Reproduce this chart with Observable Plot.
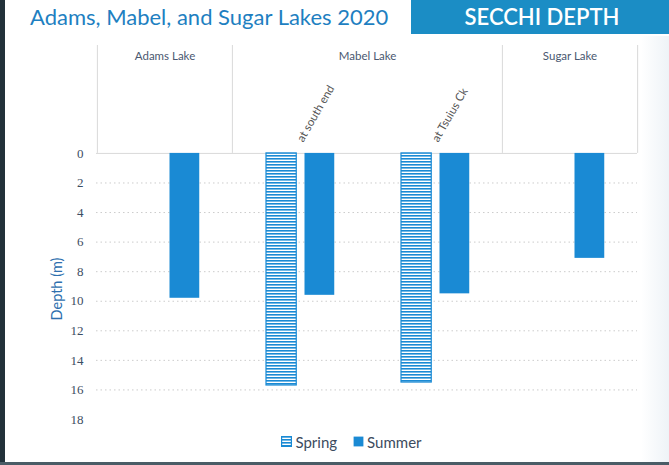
<!DOCTYPE html>
<html><head><meta charset="utf-8">
<script src="https://cdn.jsdelivr.net/npm/d3@7"></script>
<script src="https://cdn.jsdelivr.net/npm/@observablehq/plot@0.6"></script>
<style>
body{margin:0;background:#fff;}
#wrap{position:relative;width:669px;height:465px;overflow:hidden;background:#fff;font-family:Lato,"Open Sans",sans-serif;}
#title{position:absolute;left:30px;top:3px;font-size:22px;color:#1e7fc1;white-space:nowrap;}
#box{position:absolute;left:411px;top:0;width:258px;height:34px;background:#1b8dc5;color:#fff;font-size:22px;font-weight:600;text-align:center;line-height:34px;padding-left:4px;box-sizing:border-box;}
#chart{position:absolute;left:0;top:38px;}
#legend{position:absolute;top:432px;left:0;width:669px;box-sizing:border-box;padding-left:34px;text-align:center;font-size:15px;color:#3c4b5e;}
#legend span.item{display:inline-flex;align-items:center;margin:0 8px;}
#legend svg{margin-right:3px;}
#edgeL{position:absolute;left:0;top:0;width:5px;height:465px;background:#22313a;}
#edgeB{position:absolute;left:0;top:462px;width:669px;height:3px;background:#4a5c66;}
#edgeR{position:absolute;left:641px;top:36px;width:28px;height:426px;background:linear-gradient(90deg,#ffffff,#eef3f7);}
</style>
</head><body>
<svg width="0" height="0" style="position:absolute">
  <defs>
    <pattern id="hatch" patternUnits="userSpaceOnUse" width="6" height="3">
      <rect width="6" height="3" fill="#ffffff"></rect>
      <rect y="0" width="6" height="1.6" fill="#1a8ad4"></rect>
    </pattern>
  </defs>
</svg>
<div id="wrap">
  <div id="edgeR"></div>
  <div id="title">Adams, Mabel, and Sugar Lakes 2020</div>
  <div id="box">SECCHI DEPTH</div>
  <div id="chart"></div>
  <div id="legend"></div>
  <div id="edgeL"></div>
  <div id="edgeB"></div>
</div>
<script>
// ---- data ----
const siteKeys = ["Adams", "MabelSouth", "MabelTsuius", "Sugar"];
const subLabels = ["", "at south end", "at Tsuius Ck", ""];
const lakeNames = ["Adams Lake", "Mabel Lake", "Sugar Lake"];
const lakeFirstSite = ["Adams", "MabelSouth", "Sugar"];
const lakeSiteCount = [1, 2, 1];
const seasons = ["Spring", "Summer"];
const springDepth = [null, 15.7, 15.5, null];
const summerDepth = [9.8, 9.6, 9.5, 7.1];
const yTicks = [0, 2, 4, 6, 8, 10, 12, 14, 16, 18];
const gridDepths = [2, 4, 6, 8, 10, 12, 14, 16];

// ---- layout ----
const W = 669, H = 392, mL = 96, mR = 32, mT = 7, mB = 11;
const headerTop = -7.3;
const step = (W - mL - mR) / siteKeys.length;
const blue = "#1a8ad4";

const springRows = siteKeys.map((s, i) => ({site: s, depth: springDepth[i]})).filter(d => d.depth != null);
const summerRows = siteKeys.map((s, i) => ({site: s, depth: summerDepth[i]})).filter(d => d.depth != null);
const subRows = siteKeys.map((s, i) => ({site: s, label: subLabels[i]})).filter(d => d.label);
const lakeRows = lakeNames.map((n, i) => ({name: n, site: lakeFirstSite[i], span: lakeSiteCount[i]}));
const singleLakes = lakeRows.filter(d => d.span === 1);
const doubleLakes = lakeRows.filter(d => d.span === 2);
const sepLeft = lakeFirstSite;
const sepRight = [siteKeys[siteKeys.length - 1]];

const chart = Plot.plot({
  width: W, height: H,
  marginLeft: mL, marginRight: mR, marginTop: mT, marginBottom: mB,
  style: {fontFamily: "Lato, sans-serif", background: "transparent"},
  x: {type: "band", domain: siteKeys, padding: 0, axis: null},
  y: {domain: [headerTop, 18], reverse: true, axis: null},
  marks: [
    Plot.ruleY(gridDepths, {stroke: "#cccccc", strokeDasharray: "1.5,3", strokeWidth: 1}),
    Plot.ruleY([0], {stroke: "#d9d9d9", strokeWidth: 1}),
    Plot.ruleX(sepLeft, {x: d => d, y1: headerTop, y2: 0, dx: -step / 2, stroke: "#d9d9d9"}),
    Plot.ruleX(sepRight, {x: d => d, y1: headerTop, y2: 0, dx: step / 2, stroke: "#d9d9d9"}),
    Plot.text(singleLakes, {x: "site", y: -6.6, text: "name", fontSize: 11.5, fill: "#4a5870"}),
    Plot.text(doubleLakes, {x: "site", y: -6.6, text: "name", dx: step / 2, fontSize: 11.5, fill: "#4a5870"}),
    Plot.text(subRows, {x: "site", y: -0.85, text: "label", rotate: -60, textAnchor: "start",
      fontSize: 11.5, fill: "#555"}),
    Plot.barY(springRows, {x: "site", y1: 0, y2: "depth", fill: "url(#hatch)", stroke: blue, strokeWidth: 1.2,
      insetLeft: 34, insetRight: step - 34 - 30.5}),
    Plot.barY(summerRows, {x: "site", y1: 0, y2: "depth", fill: blue,
      insetLeft: 72.5, insetRight: step - 72.5 - 30}),
    Plot.axisY({ticks: yTicks, tickSize: 0, tickPadding: 13, fontSize: 13, fontFamily: "Liberation Serif",
      color: "#3c4d63", label: null}),
    Plot.text(["Depth (m)"], {frameAnchor: "left", y: 11.3, dx: -39, rotate: -90, fontSize: 14.5, fill: "#2e6fae"})
  ]
});
document.getElementById("chart").appendChild(chart);

// ---- legend ----
const legend = document.getElementById("legend");
seasons.forEach(s => {
  const item = document.createElement("span");
  item.className = "item";
  const fill = s === "Spring" ? "url(#hatch)" : blue;
  const stroke = s === "Spring" ? blue : "none";
  item.innerHTML = `<svg width="11" height="11"><rect x="0.6" y="0.6" width="9.8" height="9.8" fill="${fill}" stroke="${stroke}" stroke-width="1.2"></rect></svg>${s}`;
  legend.appendChild(item);
});
</script>
</body></html>
